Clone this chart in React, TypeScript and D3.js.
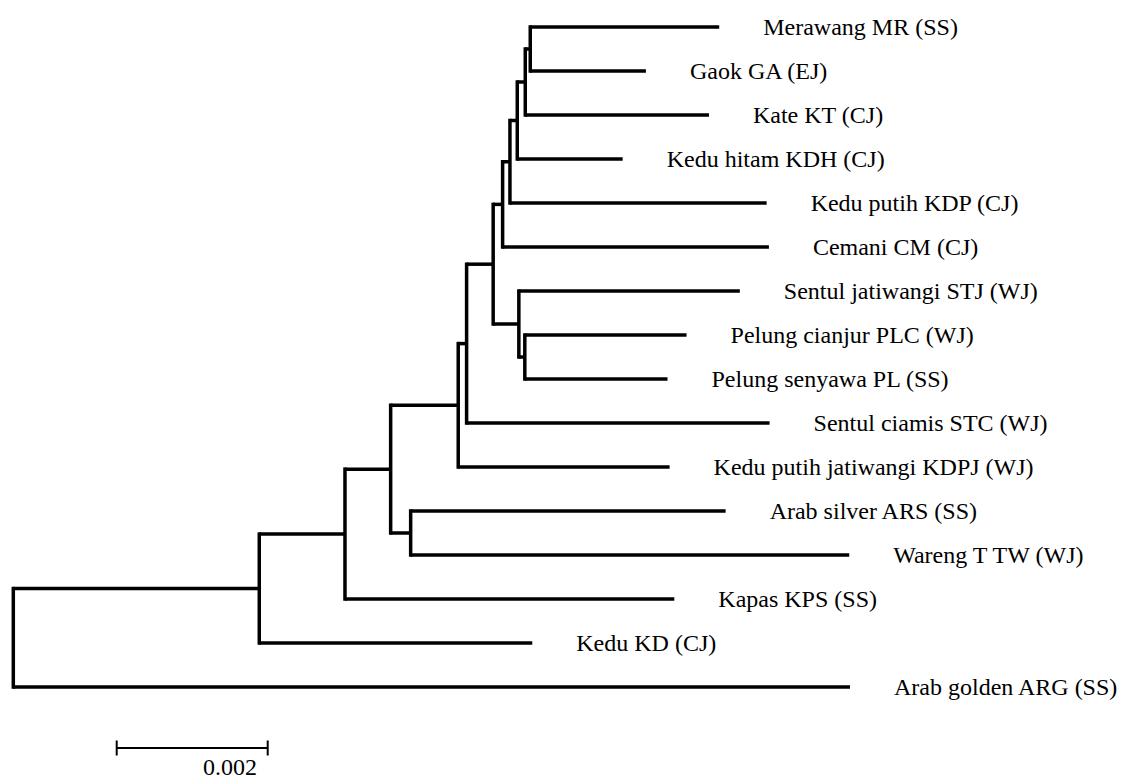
import React, { useRef, useEffect } from "react";
import * as d3 from "d3";

// tree as a parent table, rows listed top-to-bottom so child order matches the figure
const nodeIds = [
  "root", "n1", "Arab golden ARG (SS)", "n2", "Kedu KD (CJ)", "n3", "Kapas KPS (SS)",
  "n5", "n4", "Arab silver ARS (SS)", "Wareng T TW (WJ)", "n6", "Kedu putih jatiwangi KDPJ (WJ)",
  "n7", "Sentul ciamis STC (WJ)", "n10", "n8", "n11", "Cemani CM (CJ)", "n12", "Kedu putih KDP (CJ)",
  "n13", "Kedu hitam KDH (CJ)", "n14", "Kate KT (CJ)", "Merawang MR (SS)", "Gaok GA (EJ)",
  "Sentul jatiwangi STJ (WJ)", "n9", "Pelung cianjur PLC (WJ)", "Pelung senyawa PL (SS)",
];
const parentIds = [
  "", "root", "root", "n1", "n1", "n2", "n2",
  "n3", "n3", "n4", "n4", "n5", "n5",
  "n6", "n6", "n7", "n7", "n10", "n10", "n11", "n11",
  "n12", "n12", "n13", "n13", "n14", "n14",
  "n8", "n8", "n9", "n9",
];
const branchLengths = [
  0, 0.003258, 0.011082, 0.001135, 0.003616, 0.000605, 0.004362,
  0.000895, 0.000265, 0.004172, 0.005809, 0.000111, 0.0028,
  0.000352, 0.004013, 0.000125, 0.00034, 0.000097, 0.003527, 0.000097, 0.0034,
  0.000106, 0.001396, 0.000066, 0.002433, 0.002503, 0.001532,
  0.002927, 0.000079, 0.002142, 0.00189,
];
const scaleBarValue = 0.002;
const scaleBarLabel = "0.002";

const FONT = '"Liberation Serif", "Times New Roman", Times, "DejaVu Serif", serif';

const App = () => {
  const svgRef = useRef<SVGSVGElement>(null);

  useEffect(() => {
    const w = 1121;
    const h = 780;
    const svg = d3.select(svgRef.current).attr("width", w).attr("height", h);
    svg.selectAll("*").remove();

    const rows = nodeIds.map((id, i) => ({ id, parent: parentIds[i] || null, len: branchLengths[i] }));
    const root: any = d3
      .stratify<any>()
      .id((d) => d.id)
      .parentId((d) => d.parent)(rows);

    // cumulative distance from root
    root.eachBefore((n: any) => {
      n.dist = n.parent ? n.parent.dist + n.data.len : 0;
    });

    const leaves = root.leaves();
    const yScale = d3
      .scalePoint()
      .domain(leaves.map((d: any) => d.id))
      .range([27, 687]);
    root.eachAfter((n: any) => {
      if (n.children) {
        n.yy = (n.children[0].yy + n.children[n.children.length - 1].yy) / 2;
      } else {
        n.yy = yScale(n.id);
      }
    });

    const xScale = d3.scaleLinear().domain([0, scaleBarValue]).range([13.3, 164.3]);

    const g = svg.append("g");

    // horizontal branches
    g.selectAll(".hbranch")
      .data(root.descendants().filter((d: any) => d.parent))
      .enter()
      .append("line")
      .attr("x1", (d: any) => xScale(d.parent.dist))
      .attr("x2", (d: any) => xScale(d.dist))
      .attr("y1", (d: any) => d.yy)
      .attr("y2", (d: any) => d.yy)
      .attr("stroke", "#000")
      .attr("stroke-width", 3.5);

    // vertical connectors
    g.selectAll(".vbranch")
      .data(root.descendants().filter((d: any) => d.children))
      .enter()
      .append("line")
      .attr("x1", (d: any) => xScale(d.dist))
      .attr("x2", (d: any) => xScale(d.dist))
      .attr("y1", (d: any) => d.children[0].yy)
      .attr("y2", (d: any) => d.children[d.children.length - 1].yy)
      .attr("stroke", "#000")
      .attr("stroke-width", 3.5)
      .attr("stroke-linecap", "square");

    // tip labels
    g.selectAll(".tip")
      .data(leaves)
      .enter()
      .append("text")
      .attr("x", (d: any) => xScale(d.dist) + 44)
      .attr("y", (d: any) => d.yy)
      .attr("dy", "0.33em")
      .style("font-family", FONT)
      .style("font-size", "24px")
      .attr("fill", "#000")
      .text((d: any) => d.id);

    // scale bar
    const bx = 116.7;
    const by = 748;
    const bw = xScale(scaleBarValue) - xScale(0);
    const bar = svg.append("g").attr("stroke", "#000").attr("stroke-width", 2);
    bar.append("line").attr("x1", bx).attr("x2", bx + bw).attr("y1", by).attr("y2", by);
    bar.append("line").attr("x1", bx).attr("x2", bx).attr("y1", by - 7.5).attr("y2", by + 7.5);
    bar.append("line").attr("x1", bx + bw).attr("x2", bx + bw).attr("y1", by - 7.5).attr("y2", by + 7.5);
    svg
      .append("text")
      .attr("x", 203)
      .attr("y", 775)
      .style("font-family", FONT)
      .style("font-size", "24px")
      .attr("fill", "#000")
      .text(scaleBarLabel);
  }, []);

  return (
    <div style={{ position: "absolute", left: 0, top: 0, background: "#fff" }}>
      <svg ref={svgRef} style={{ display: "block" }}></svg>
    </div>
  );
};

export default App;
